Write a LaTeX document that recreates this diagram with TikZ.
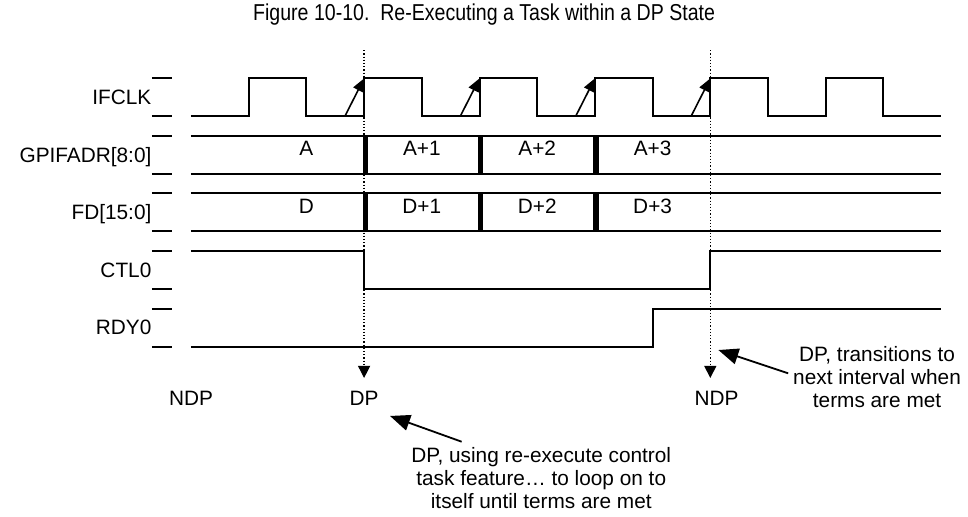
\documentclass[tikz,border=0pt]{standalone}
\usepackage{fontspec}
\setmainfont{Liberation Sans}
\newfontfamily\captionfont[FakeStretch=0.85]{Liberation Sans}
\usetikzlibrary{arrows.meta}

\begin{document}
\begin{tikzpicture}[x=28.85pt, y=28.85pt, font=\fontsize{10.4}{11.5}\selectfont,
  sig/.style={line width=1pt},
  bar/.style={line width=2.6pt},
  tickmark/.style={line width=1pt},
  guide/.style={line width=0.6pt, densely dotted, -{Triangle[length=6pt,width=6pt]}},
  edgearrow/.style={line width=0.8pt, -{Triangle[length=6.5pt,width=5.5pt]}},
  notearrow/.style={line width=0.9pt, -{Triangle[length=10pt,width=8pt]}},
  siglabel/.style={anchor=east, inner sep=0pt, text depth=0pt},
  buslabel/.style={inner sep=0pt},
  phase/.style={inner sep=0pt},
  note/.style={align=center, inner sep=0pt}]
  \useasboundingbox (-3.31,-2.934) rectangle (13.466,6.009);
  % Titel
  \node[font=\captionfont\fontsize{11.5}{13}\selectfont] (title) at (5.08,5.75)
    {Figure 10-10.\ \ Re-Executing a Task within a DP State};
  % Signalnamen und Pegelstriche
  \node[siglabel] (lblclk) at (-0.68,4.33) {IFCLK};
  \node[siglabel] (lbladr) at (-0.68,3.33) {GPIFADR[8:0]};
  \node[siglabel] (lblfd)  at (-0.68,2.33) {FD[15:0]};
  \node[siglabel] (lblctl) at (-0.68,1.33) {CTL0};
  \node[siglabel] (lblrdy) at (-0.68,0.33) {RDY0};
  \foreach \r in {0,...,4}
    \draw[tickmark] (-0.676,\r) -- (-0.329,\r) (-0.676,\r+0.66) -- (-0.329,\r+0.66);
  % IFCLK
  \draw[sig] (0,4) \foreach \k in {1,3,...,11} { -- (\k,4) -- (\k,4.66) -- (\k+1,4.66) -- (\k+1,4) } -- (13,4);
  \foreach \k in {3,5,7,9}
    \draw[edgearrow] (\k-0.33,4) -- (\k,4.65);
  % Busse
  \foreach \r in {3,2} {
    \draw[sig] (0,\r) -- (13,\r) (0,\r+0.66) -- (13,\r+0.66);
    \foreach \k in {3,5,7}
      \draw[bar] (\k+0.02,\r) -- (\k+0.02,\r+0.66);
  }
  \foreach \k/\t in {2/A,4/A+1,6/A+2,8/A+3}
    \node[buslabel] (adr\k) at (\k,3.44) {\t};
  \foreach \k/\t in {2/D,4/D+1,6/D+2,8/D+3}
    \node[buslabel] (fd\k) at (\k,2.43) {\t};
  % CTL0, RDY0
  \draw[sig] (0,1.66) -- (3,1.66) -- (3,1) -- (9,1) -- (9,1.66) -- (13,1.66);
  \draw[sig] (0,0) -- (8,0) -- (8,0.66) -- (13,0.66);
  % Zustaende
  \node[phase] (ndpa) at (0,-0.889) {NDP};
  \node[phase] (dpa)  at (3,-0.889) {DP};
  \node[phase] (ndpb) at (9.11,-0.889) {NDP};
  \coordinate (gtopa) at (3,5.14);
  \coordinate (gtopb) at (9,5.14);
  \coordinate (gbotb) at (gtopb |- ndpb.north);
  \draw[guide] (gtopa) -- ([yshift=6.25pt]dpa.north);
  \draw[guide] (gtopb) -- ([yshift=6.25pt]gbotb);
  % Anmerkungen
  \node[note] (notea) at (6.07,-2.28)
    {DP, using re-execute control\\task feature… to loop on to\\itself until terms are met};
  \node[note] (noteb) at (11.89,-0.525)
    {DP, transitions to\\next interval when\\terms are met};
  \coordinate (taila) at (4.69,-1.646);
  \coordinate (tipa)  at (3.449,-1.20);
  \coordinate (tailb) at (10.35,-0.461);
  \coordinate (tipb)  at (9.14,-0.057);
  \draw[notearrow] (taila) -- (tipa);
  \draw[notearrow] (tailb) -- (tipb);
\end{tikzpicture}
\end{document}
